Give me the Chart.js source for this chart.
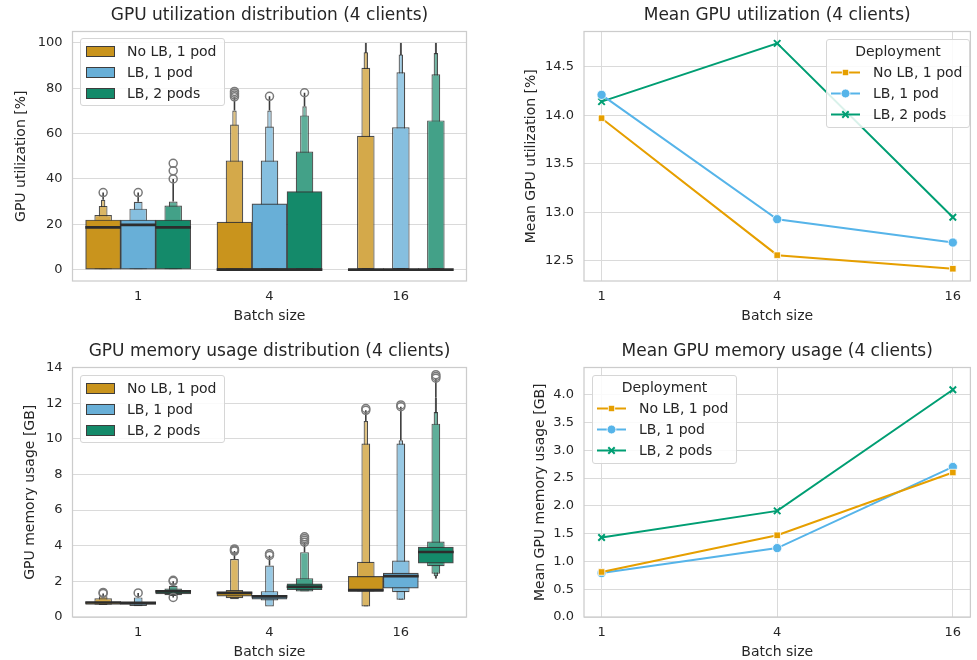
<!DOCTYPE html>
<html>
<head>
<meta charset="utf-8">
<script src="https://cdn.jsdelivr.net/npm/chart.js@4.4.0/dist/chart.umd.min.js"></script>
<style>
  body { margin: 0; background: #fff; }
  #wrap { position: relative; width: 977px; height: 660px; overflow: hidden;
          font-family: 'DejaVu Sans', sans-serif; color: #262626; }
  #wrap canvas { position: absolute; }
  .legend { position: absolute; box-sizing: border-box; border: 1px solid #d6d6d6; border-radius: 3px;
            background: rgba(255,255,255,0.85); font-size: 14px; }
  .row { position: absolute; left: 0; right: 0; height: 21px; line-height: 21px; white-space: nowrap; }
  .row .swatch { position: absolute; top: 5px; width: 27px; height: 9px; border: 1px solid #3d3d3d; }
  .row svg { position: absolute; top: 4px; }
  .row span { position: absolute; }
  .row.title { text-align: center; }
</style>
</head>
<body>
<div id="wrap">
  <canvas id="utilDist" width="488" height="330" style="left:0;top:0"></canvas>
  <canvas id="utilMean" width="489" height="330" style="left:488px;top:0"></canvas>
  <canvas id="memDist" width="488" height="330" style="left:0;top:336px"></canvas>
  <canvas id="memMean" width="489" height="330" style="left:488px;top:336px"></canvas>

  <div class="legend" id="legUtilDist" style="left:80px;top:38px;width:145px;height:68px"></div>
  <div class="legend" id="legMemDist" style="left:80px;top:375px;width:145px;height:68px"></div>
  <div class="legend" id="legUtilMean" style="left:826px;top:39px;width:144px;height:89px"></div>
  <div class="legend" id="legMemMean" style="left:592px;top:375px;width:145px;height:89px"></div>
</div>
<script>
// --- Data ---
const batchSizes = ['1', '4', '16'];
const batchValues = [1, 4, 16];
const deployments = ['No LB, 1 pod', 'LB, 1 pod', 'LB, 2 pods'];

// GPU utilization [%]: letter-value boxes per batch size, innermost level first, [low, high]
const utilBoxesNoLb = [
  [[0, 21.9], [0, 24.1], [0, 28.1], [0, 30.8]],
  [[0, 21.0], [0, 48.1], [0, 64.0], [0, 70.2]],
  [[0, 0], [0, 59.0], [0, 89.0], [0, 95.9], [0, 100]]
];
const utilBoxesLb1 = [
  [[0, 21.9], [0, 26.9], [0, 29.9]],
  [[0, 29.0], [0, 48.1], [0, 63.1], [0, 70.2]],
  [[0, 0], [0, 62.8], [0, 87.0], [0, 94.9], [0, 100]]
];
const utilBoxesLb2 = [
  [[0, 21.9], [0, 28.3], [0, 30.0]],
  [[0, 34.4], [0, 52.1], [0, 68.0], [0, 72.0]],
  [[0, 0], [0, 65.8], [0, 86.1], [0, 95.5], [0, 100]]
];
const utilMedians = [[19.1, 0, 0], [20.2, 0, 0], [19.1, 0, 0]];
const utilOutliersNoLb = [[34.0], [76.2, 77.0, 77.8, 78.6], []];
const utilOutliersLb1 = [[34.0], [76.4], []];
const utilOutliersLb2 = [[40.0, 43.6, 46.9], [78.0], []];

// GPU memory usage [GB]
const memBoxesNoLb = [
  [[0.71, 0.84], [0.69, 1.05], [0.68, 1.17]],
  [[1.17, 1.40], [1.05, 1.52], [1.00, 3.25]],
  [[1.43, 2.28], [1.43, 3.10], [0.59, 9.73], [0.59, 11.0]]
];
const memBoxesLb1 = [
  [[0.70, 0.80], [0.62, 0.84], [0.60, 1.10]],
  [[1.00, 1.22], [0.93, 1.45], [0.59, 2.89]],
  [[1.62, 2.46], [1.39, 3.17], [0.97, 9.73], [0.97, 9.92]]
];
const memBoxesLb2 = [
  [[1.30, 1.48], [1.22, 1.60], [1.18, 1.75]],
  [[1.53, 1.86], [1.43, 2.18], [1.43, 3.64]],
  [[3.02, 3.92], [2.85, 4.24], [2.43, 10.85], [2.28, 11.5], [2.15, 12.3]]
];
const memMedians = [[0.76, 1.30, 1.45], [0.74, 1.10, 2.24], [1.38, 1.64, 3.59]];
const memOutliersNoLb = [[1.32, 1.38], [3.70, 3.76, 3.82], [11.6, 11.7]];
const memOutliersLb1 = [[1.35], [3.45, 3.55], [11.8, 11.9]];
const memOutliersLb2 = [[1.10, 2.00, 2.06], [4.20, 4.30, 4.40, 4.50], [13.4, 13.5, 13.6]];

// Means per batch size
const meanUtilNoLb = [13.97, 12.56, 12.42];
const meanUtilLb1 = [14.21, 12.93, 12.69];
const meanUtilLb2 = [14.14, 14.74, 12.95];
const meanMemNoLb = [0.81, 1.47, 2.60];
const meanMemLb1 = [0.79, 1.24, 2.70];
const meanMemLb2 = [1.43, 1.91, 4.09];

// Tick values
const utilTicks = [0, 20, 40, 60, 80, 100];
const memTicks = [0, 2, 4, 6, 8, 10, 12, 14];
const meanUtilTicks = [12.5, 13.0, 13.5, 14.0, 14.5];
const meanMemTicks = [0, 0.5, 1.0, 1.5, 2.0, 2.5, 3.0, 3.5, 4.0];

// --- Styles ---
const TEXT = '#262626';
const GRID = '#dadada';
const EDGE = 'rgba(45,45,45,0.85)';
const lineColors = ['#E69F00', '#56B4E9', '#009E73'];
const boxColors = ['#C9941D', '#68AFD7', '#148A6A'];
const levelTint = [0, 0.2, 0.32, 0.42, 0.5];
const HUE_W = 0.8 / 3;

Chart.defaults.font.family = "'DejaVu Sans', sans-serif";
Chart.defaults.color = TEXT;

// --- Helpers ---
const tint = (hex, t) => {
  const n = parseInt(hex.slice(1), 16);
  const f = c => Math.round(c + (255 - c) * t);
  return `rgb(${f((n >> 16) & 255)},${f((n >> 8) & 255)},${f(n & 255)})`;
};
const hueX = (b, h) => b + (h - 1) * HUE_W;

const framePlugin = {
  id: 'frame',
  beforeDatasetsDraw(chart) {
    const { ctx, chartArea: a } = chart;
    ctx.save();
    ctx.strokeStyle = '#cccccc';
    ctx.lineWidth = 1.25;
    ctx.strokeRect(a.left, a.top, a.right - a.left, a.bottom - a.top);
    ctx.restore();
  }
};

const fixedTicks = vals => scale => { scale.ticks = vals.map(v => ({ value: v })); };

/**
 * Letter-value (boxen) plot built from floating bars
 */
const boxenDatasets = (boxesByHue, medians, outliersByHue) => {
  const sets = [];
  boxesByHue.forEach((boxes, h) => {
    const nLevels = Math.max(...boxes.map(l => l.length));
    for (let k = 0; k < nLevels; k++) {
      const data = [];
      boxes.forEach((levels, b) => { if (levels[k]) data.push({ x: hueX(b, h), y: levels[k] }); });
      sets.push({
        type: 'bar', data, grouped: false, order: 10 + k,
        backgroundColor: tint(boxColors[h], levelTint[k]), borderColor: EDGE,
        borderWidth: 1.2, borderSkipped: false,
        barPercentage: Math.pow(0.5, k), categoryPercentage: 1
      });
    }
    // medians
    sets.push({
      type: 'bar', grouped: false, order: 5,
      data: medians[h].map((m, b) => ({ x: hueX(b, h), y: [m, m] })),
      backgroundColor: '#2d2d2d', borderWidth: 0, minBarLength: 2,
      barPercentage: 1, categoryPercentage: 1
    });
    // whiskers from outermost box to nearest outliers
    const whiskers = [];
    boxes.forEach((levels, b) => {
      const outer = levels[levels.length - 1];
      const above = outliersByHue[h][b].filter(v => v > outer[1]);
      const below = outliersByHue[h][b].filter(v => v < outer[0]);
      if (above.length) whiskers.push({ x: hueX(b, h), y: [outer[1], Math.min(...above)] });
      if (below.length) whiskers.push({ x: hueX(b, h), y: [Math.max(...below), outer[0]] });
    });
    sets.push({
      type: 'bar', grouped: false, order: 100, data: whiskers,
      backgroundColor: '#3a3a3a', borderWidth: 0, barPercentage: 0.045, categoryPercentage: 1
    });
    // outliers
    const pts = [];
    outliersByHue[h].forEach((vals, b) => vals.forEach(v => pts.push({ x: hueX(b, h), y: v })));
    sets.push({
      type: 'scatter', order: 0, data: pts,
      pointRadius: 4, pointBorderWidth: 1.5, pointBorderColor: '#7a7a7a',
      pointBackgroundColor: 'rgba(0,0,0,0)'
    });
  });
  return sets;
};

const boxenChart = (id, title, yTitle, yMin, yMax, ticks, yTitlePad, datasets) => new Chart(document.getElementById(id), {
  type: 'bar',
  data: { datasets },
  plugins: [framePlugin],
  options: {
    responsive: false, animation: false, events: [],
    layout: { padding: { left: 0, right: 21.5, top: 0, bottom: 0 } },
    plugins: {
      legend: { display: false }, tooltip: { enabled: false },
      title: { display: true, text: title, fullSize: false, color: TEXT,
               font: { size: 17, weight: 'normal' }, padding: { top: 5.8, bottom: 5.3 } }
    },
    scales: {
      x: {
        type: 'linear', min: -0.5, max: 2.5, offset: false,
        afterBuildTicks: fixedTicks([0, 1, 2]),
        afterFit: s => { s.height = 49; },
        grid: { display: false, drawTicks: false, offset: false }, border: { display: false },
        ticks: { callback: v => batchSizes[v], font: { size: 13 }, color: TEXT, padding: 8.2 },
        title: { display: true, text: 'Batch size', color: TEXT, font: { size: 14 }, padding: { top: 0, bottom: 5.6 } }
      },
      y: {
        min: yMin, max: yMax,
        afterBuildTicks: fixedTicks(ticks),
        afterFit: s => { s.width = 72.5; },
        grid: { color: GRID, drawTicks: false }, border: { display: false },
        ticks: { font: { size: 13 }, color: TEXT, padding: 10 },
        title: { display: true, text: yTitle, color: TEXT, font: { size: 14 }, padding: { top: yTitlePad, bottom: 0 } }
      }
    }
  }
});

const markerStyles = [
  { pointStyle: 'rect', pointRadius: 4.6, pointBorderColor: '#ffffff', pointBorderWidth: 0.8 },
  { pointStyle: 'circle', pointRadius: 4.6, pointBorderColor: '#ffffff', pointBorderWidth: 0.8 },
  { pointStyle: 'crossRot', pointRadius: 4.6, pointBorderWidth: 2 }
];

const meanChart = (id, title, yTitle, yMin, yMax, ticks, yTitlePad, series) => new Chart(document.getElementById(id), {
  type: 'line',
  data: {
    datasets: series.map((vals, h) => ({
      label: deployments[h],
      data: batchValues.map((x, i) => ({ x, y: vals[i] })),
      borderColor: lineColors[h], backgroundColor: lineColors[h], borderWidth: 2,
      pointBackgroundColor: lineColors[h],
      ...markerStyles[h],
      ...(h === 2 ? { pointBorderColor: lineColors[h] } : {}),
      tension: 0
    }))
  },
  plugins: [framePlugin],
  options: {
    responsive: false, animation: false, events: [],
    layout: { padding: { left: 0, right: 1.5, top: 0, bottom: 0 } },
    plugins: {
      legend: { display: false }, tooltip: { enabled: false },
      title: { display: true, text: title, fullSize: false, color: TEXT,
               font: { size: 17, weight: 'normal' }, padding: { top: 5.8, bottom: 5.3 } }
    },
    scales: {
      x: {
        type: 'logarithmic', min: Math.pow(2, -0.2), max: Math.pow(2, 4.2),
        afterBuildTicks: fixedTicks(batchValues),
        afterFit: s => { s.height = 49; },
        grid: { color: GRID, drawTicks: false }, border: { display: false },
        ticks: { callback: v => String(v), font: { size: 13 }, color: TEXT, padding: 8.2 },
        title: { display: true, text: 'Batch size', color: TEXT, font: { size: 14 }, padding: { top: 0, bottom: 5.6 } }
      },
      y: {
        min: yMin, max: yMax,
        afterBuildTicks: fixedTicks(ticks),
        afterFit: s => { s.width = 96; },
        grid: { color: GRID, drawTicks: false }, border: { display: false },
        ticks: { callback: v => v.toFixed(1), font: { size: 13 }, color: TEXT, padding: 10 },
        title: { display: true, text: yTitle, color: TEXT, font: { size: 14 }, padding: { top: yTitlePad, bottom: 0 } }
      }
    }
  }
});

// --- HTML legends ---
const boxLegend = id => {
  const el = document.getElementById(id);
  deployments.forEach((name, h) => {
    el.insertAdjacentHTML('beforeend',
      `<div class="row" style="top:${2 + h * 21}px"><div class="swatch" style="left:5px;background:${boxColors[h]}"></div><span style="left:46px">${name}</span></div>`);
  });
};
const markerSvg = h => {
  const c = lineColors[h];
  const mk = [
    `<rect x="11.3" y="3.3" width="6.4" height="6.4" fill="${c}" stroke="#fff" stroke-width="0.8"/>`,
    `<circle cx="14.5" cy="6.5" r="4.4" fill="${c}" stroke="#fff" stroke-width="0.8"/>`,
    `<path d="M11.3 3.3 L17.7 9.7 M17.7 3.3 L11.3 9.7" stroke="${c}" stroke-width="2"/>`
  ][h];
  return `<svg width="29" height="13"><line x1="0" y1="6.5" x2="29" y2="6.5" stroke="${c}" stroke-width="2"/>${mk}</svg>`;
};
const lineLegend = id => {
  const el = document.getElementById(id);
  el.insertAdjacentHTML('beforeend', '<div class="row title" style="top:1px">Deployment</div>');
  deployments.forEach((name, h) => {
    el.insertAdjacentHTML('beforeend',
      `<div class="row" style="top:${22 + h * 21}px"><span style="left:4px;top:0">${markerSvg(h)}</span><span style="left:46px">${name}</span></div>`);
  });
};

// --- Initialize all components ---
boxenChart('utilDist', 'GPU utilization distribution (4 clients)', 'GPU utilization [%]', -5, 105, utilTicks, 12.6,
  boxenDatasets([utilBoxesNoLb, utilBoxesLb1, utilBoxesLb2], utilMedians, [utilOutliersNoLb, utilOutliersLb1, utilOutliersLb2]));
boxenChart('memDist', 'GPU memory usage distribution (4 clients)', 'GPU memory usage [GB]', 0, 14, memTicks, 21.6,
  boxenDatasets([memBoxesNoLb, memBoxesLb1, memBoxesLb2], memMedians, [memOutliersNoLb, memOutliersLb1, memOutliersLb2]));
meanChart('utilMean', 'Mean GPU utilization (4 clients)', 'Mean GPU utilization [%]', 12.294, 14.862, meanUtilTicks, 34.6,
  [meanUtilNoLb, meanUtilLb1, meanUtilLb2]);
meanChart('memMean', 'Mean GPU memory usage (4 clients)', 'Mean GPU memory usage [GB]', 0, 4.49, meanMemTicks, 43.6,
  [meanMemNoLb, meanMemLb1, meanMemLb2]);

boxLegend('legUtilDist');
boxLegend('legMemDist');
lineLegend('legUtilMean');
lineLegend('legMemMean');
</script>
</body>
</html>
